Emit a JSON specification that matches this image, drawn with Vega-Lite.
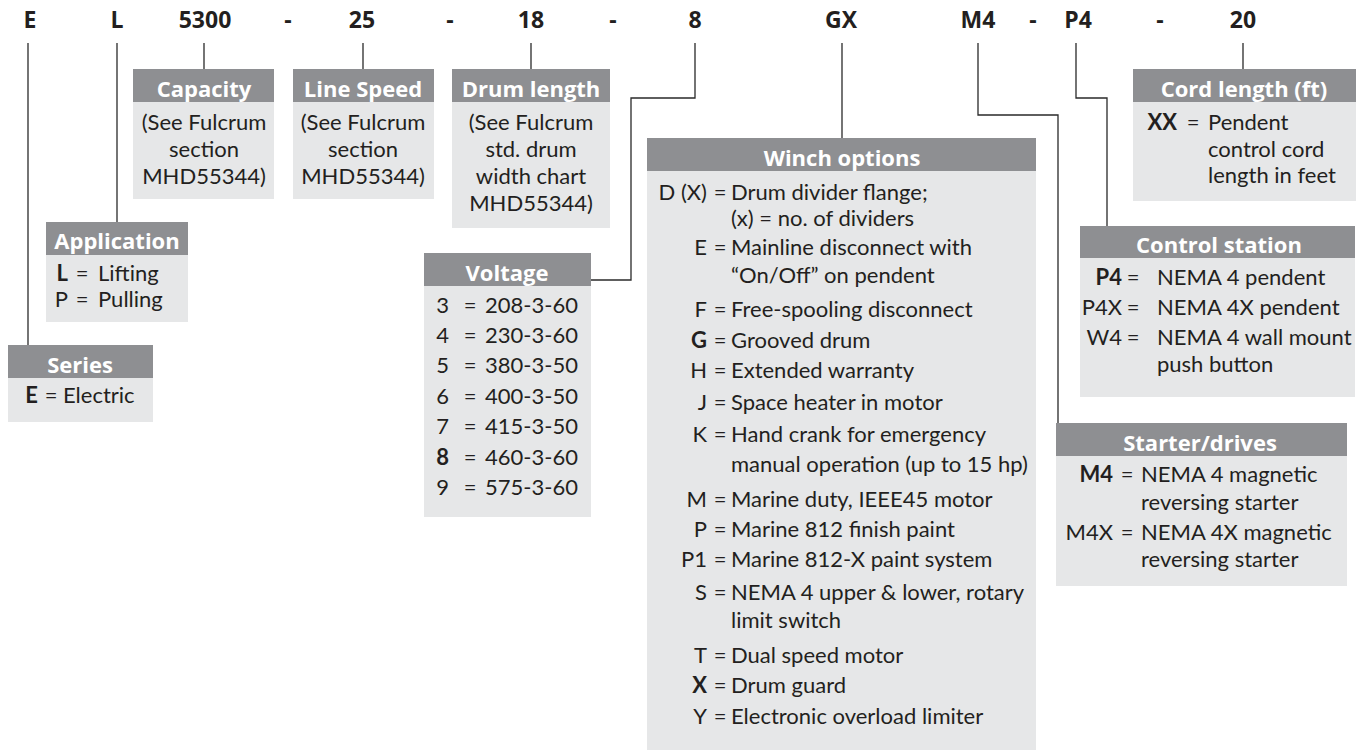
{
  "$schema": "https://vega.github.io/schema/vega-lite/v6.json",
  "width": 1356,
  "height": 752,
  "padding": 0,
  "autosize": {"type": "none"},
  "background": "white",
  "config": {"view": {"stroke": null}},
  "datasets": {
    "boxes": [
      {"box": "Capacity", "part": "header", "x": 133, "x2": 274, "y": 69, "y2": 102},
      {"box": "Capacity", "part": "body", "x": 133, "x2": 274, "y": 102, "y2": 199},
      {"box": "Line Speed", "part": "header", "x": 293, "x2": 434, "y": 69, "y2": 102},
      {"box": "Line Speed", "part": "body", "x": 293, "x2": 434, "y": 102, "y2": 199},
      {"box": "Drum length", "part": "header", "x": 452, "x2": 610, "y": 69, "y2": 102},
      {"box": "Drum length", "part": "body", "x": 452, "x2": 610, "y": 102, "y2": 228},
      {"box": "Cord length", "part": "header", "x": 1133, "x2": 1356, "y": 69, "y2": 102},
      {"box": "Cord length", "part": "body", "x": 1133, "x2": 1356, "y": 102, "y2": 201},
      {"box": "Application", "part": "header", "x": 46, "x2": 188, "y": 222, "y2": 255},
      {"box": "Application", "part": "body", "x": 46, "x2": 188, "y": 255, "y2": 322},
      {"box": "Series", "part": "header", "x": 8, "x2": 153, "y": 345, "y2": 378},
      {"box": "Series", "part": "body", "x": 8, "x2": 153, "y": 378, "y2": 422},
      {"box": "Voltage", "part": "header", "x": 424, "x2": 591, "y": 253, "y2": 286},
      {"box": "Voltage", "part": "body", "x": 424, "x2": 591, "y": 286, "y2": 517},
      {"box": "Winch options", "part": "header", "x": 647, "x2": 1036, "y": 138, "y2": 171},
      {"box": "Winch options", "part": "body", "x": 647, "x2": 1036, "y": 171, "y2": 750},
      {"box": "Control station", "part": "header", "x": 1080, "x2": 1355, "y": 226, "y2": 258},
      {"box": "Control station", "part": "body", "x": 1080, "x2": 1355, "y": 258, "y2": 397},
      {"box": "Starter/drives", "part": "header", "x": 1056, "x2": 1347, "y": 423, "y2": 456},
      {"box": "Starter/drives", "part": "body", "x": 1056, "x2": 1347, "y": 456, "y2": 586}
    ],
    "links": [
      {"conn": "E", "seq": 0, "x": 28, "y": 43}, {"conn": "E", "seq": 1, "x": 28, "y": 345},
      {"conn": "L", "seq": 0, "x": 117, "y": 43}, {"conn": "L", "seq": 1, "x": 117, "y": 222},
      {"conn": "5300", "seq": 0, "x": 204, "y": 43}, {"conn": "5300", "seq": 1, "x": 204, "y": 69},
      {"conn": "25", "seq": 0, "x": 363, "y": 43}, {"conn": "25", "seq": 1, "x": 363, "y": 69},
      {"conn": "18", "seq": 0, "x": 531, "y": 43}, {"conn": "18", "seq": 1, "x": 531, "y": 69},
      {"conn": "8", "seq": 0, "x": 695, "y": 43}, {"conn": "8", "seq": 1, "x": 695, "y": 98},
      {"conn": "8", "seq": 2, "x": 631, "y": 98}, {"conn": "8", "seq": 3, "x": 631, "y": 280},
      {"conn": "8", "seq": 4, "x": 591, "y": 280},
      {"conn": "GX", "seq": 0, "x": 842, "y": 43}, {"conn": "GX", "seq": 1, "x": 842, "y": 138},
      {"conn": "M4", "seq": 0, "x": 978, "y": 43}, {"conn": "M4", "seq": 1, "x": 978, "y": 115},
      {"conn": "M4", "seq": 2, "x": 1058, "y": 115}, {"conn": "M4", "seq": 3, "x": 1058, "y": 423},
      {"conn": "P4", "seq": 0, "x": 1076, "y": 43}, {"conn": "P4", "seq": 1, "x": 1076, "y": 98},
      {"conn": "P4", "seq": 2, "x": 1107, "y": 98}, {"conn": "P4", "seq": 3, "x": 1107, "y": 226},
      {"conn": "20", "seq": 0, "x": 1243, "y": 43}, {"conn": "20", "seq": 1, "x": 1243, "y": 69}
    ],
    "topcodes": [
      {"t": "E", "x": 30, "y": 28}, {"t": "L", "x": 117, "y": 28}, {"t": "5300", "x": 205, "y": 28},
      {"t": "-", "x": 288, "y": 28}, {"t": "25", "x": 362, "y": 28}, {"t": "-", "x": 450, "y": 28},
      {"t": "18", "x": 531, "y": 28}, {"t": "-", "x": 613, "y": 28}, {"t": "8", "x": 695, "y": 28},
      {"t": "GX", "x": 841, "y": 28}, {"t": "M4", "x": 978, "y": 28}, {"t": "-", "x": 1033, "y": 28},
      {"t": "P4", "x": 1078, "y": 28}, {"t": "-", "x": 1160, "y": 28}, {"t": "20", "x": 1243, "y": 28}
    ],
    "titles": [
      {"t": "Capacity", "x": 204, "y": 97}, {"t": "Line Speed", "x": 363, "y": 97},
      {"t": "Drum length", "x": 531, "y": 97}, {"t": "Cord length (ft)", "x": 1244, "y": 97},
      {"t": "Application", "x": 117, "y": 249}, {"t": "Series", "x": 80, "y": 373},
      {"t": "Voltage", "x": 507, "y": 281}, {"t": "Winch options", "x": 842, "y": 166},
      {"t": "Control station", "x": 1219, "y": 253}, {"t": "Starter/drives", "x": 1200, "y": 451}
    ],
    "centertext": [
      {"t": "(See Fulcrum", "x": 204, "y": 130}, {"t": "section", "x": 204, "y": 157}, {"t": "MHD55344)", "x": 204, "y": 184},
      {"t": "(See Fulcrum", "x": 363, "y": 130}, {"t": "section", "x": 363, "y": 157}, {"t": "MHD55344)", "x": 363, "y": 184},
      {"t": "(See Fulcrum", "x": 531, "y": 130}, {"t": "std. drum", "x": 531, "y": 157},
      {"t": "width chart", "x": 531, "y": 184}, {"t": "MHD55344)", "x": 531, "y": 211}
    ],
    "boldcodes": [
      {"t": "L", "x": 68, "y": 281}, {"t": "E", "x": 38, "y": 403}, {"t": "8", "x": 449, "y": 465},
      {"t": "G", "x": 707, "y": 348}, {"t": "X", "x": 707, "y": 693}, {"t": "P4", "x": 1122, "y": 285},
      {"t": "M4", "x": 1113, "y": 482}, {"t": "XX", "x": 1177, "y": 130}
    ],
    "codes": [
      {"t": "P", "x": 68, "y": 307},
      {"t": "3", "x": 449, "y": 313}, {"t": "4", "x": 449, "y": 343}, {"t": "5", "x": 449, "y": 373},
      {"t": "6", "x": 449, "y": 404}, {"t": "7", "x": 449, "y": 434}, {"t": "9", "x": 449, "y": 495},
      {"t": "D (X)", "x": 707, "y": 200}, {"t": "E", "x": 707, "y": 255}, {"t": "F", "x": 707, "y": 317},
      {"t": "H", "x": 707, "y": 378}, {"t": "J", "x": 707, "y": 410}, {"t": "K", "x": 707, "y": 442},
      {"t": "M", "x": 707, "y": 507}, {"t": "P", "x": 707, "y": 537}, {"t": "P1", "x": 707, "y": 567},
      {"t": "S", "x": 707, "y": 600}, {"t": "T", "x": 707, "y": 663}, {"t": "Y", "x": 707, "y": 724},
      {"t": "P4X", "x": 1122, "y": 315}, {"t": "W4", "x": 1122, "y": 345}, {"t": "M4X", "x": 1113, "y": 540}
    ],
    "equals": [
      {"t": "=", "x": 82, "y": 281}, {"t": "=", "x": 82, "y": 307}, {"t": "=", "x": 51, "y": 403},
      {"t": "=", "x": 470, "y": 313}, {"t": "=", "x": 470, "y": 343}, {"t": "=", "x": 470, "y": 373},
      {"t": "=", "x": 470, "y": 404}, {"t": "=", "x": 470, "y": 434}, {"t": "=", "x": 470, "y": 465},
      {"t": "=", "x": 470, "y": 495},
      {"t": "=", "x": 720, "y": 200}, {"t": "=", "x": 720, "y": 255}, {"t": "=", "x": 720, "y": 317},
      {"t": "=", "x": 720, "y": 348}, {"t": "=", "x": 720, "y": 378}, {"t": "=", "x": 720, "y": 410},
      {"t": "=", "x": 720, "y": 442}, {"t": "=", "x": 720, "y": 507}, {"t": "=", "x": 720, "y": 537},
      {"t": "=", "x": 720, "y": 567}, {"t": "=", "x": 720, "y": 600}, {"t": "=", "x": 720, "y": 663},
      {"t": "=", "x": 720, "y": 693}, {"t": "=", "x": 720, "y": 724},
      {"t": "=", "x": 1133, "y": 285}, {"t": "=", "x": 1133, "y": 315}, {"t": "=", "x": 1133, "y": 345},
      {"t": "=", "x": 1127, "y": 482}, {"t": "=", "x": 1127, "y": 540},
      {"t": "=", "x": 1193, "y": 130}
    ],
    "desc": [
      {"t": "Lifting", "x": 98, "y": 281}, {"t": "Pulling", "x": 98, "y": 307},
      {"t": "Electric", "x": 63, "y": 403},
      {"t": "208-3-60", "x": 485, "y": 313}, {"t": "230-3-60", "x": 485, "y": 343},
      {"t": "380-3-50", "x": 485, "y": 373}, {"t": "400-3-50", "x": 485, "y": 404},
      {"t": "415-3-50", "x": 485, "y": 434}, {"t": "460-3-60", "x": 485, "y": 465},
      {"t": "575-3-60", "x": 485, "y": 495},
      {"t": "Drum divider flange;", "x": 731, "y": 200},
      {"t": "(x) = no. of dividers", "x": 731, "y": 226},
      {"t": "Mainline disconnect with", "x": 731, "y": 255},
      {"t": "“On/Off” on pendent", "x": 731, "y": 283},
      {"t": "Free-spooling disconnect", "x": 731, "y": 317},
      {"t": "Grooved drum", "x": 731, "y": 348},
      {"t": "Extended warranty", "x": 731, "y": 378},
      {"t": "Space heater in motor", "x": 731, "y": 410},
      {"t": "Hand crank for emergency", "x": 731, "y": 442},
      {"t": "manual operation (up to 15 hp)", "x": 731, "y": 472},
      {"t": "Marine duty, IEEE45 motor", "x": 731, "y": 507},
      {"t": "Marine 812 finish paint", "x": 731, "y": 537},
      {"t": "Marine 812-X paint system", "x": 731, "y": 567},
      {"t": "NEMA 4 upper & lower, rotary", "x": 731, "y": 600},
      {"t": "limit switch", "x": 731, "y": 628},
      {"t": "Dual speed motor", "x": 731, "y": 663},
      {"t": "Drum guard", "x": 731, "y": 693},
      {"t": "Electronic overload limiter", "x": 731, "y": 724},
      {"t": "NEMA 4 pendent", "x": 1157, "y": 285}, {"t": "NEMA 4X pendent", "x": 1157, "y": 315},
      {"t": "NEMA 4 wall mount", "x": 1157, "y": 345}, {"t": "push button", "x": 1157, "y": 372},
      {"t": "NEMA 4 magnetic", "x": 1141, "y": 482}, {"t": "reversing starter", "x": 1141, "y": 510},
      {"t": "NEMA 4X magnetic", "x": 1141, "y": 540}, {"t": "reversing starter", "x": 1141, "y": 567},
      {"t": "Pendent", "x": 1208, "y": 130}, {"t": "control cord", "x": 1208, "y": 157},
      {"t": "length in feet", "x": 1208, "y": 183}
    ]
  },
  "encoding": {
    "x": {"field": "x", "type": "quantitative", "scale": {"domain": [0, 1356], "nice": false, "zero": false}, "axis": null},
    "y": {"field": "y", "type": "quantitative", "scale": {"domain": [0, 752], "nice": false, "zero": false, "reverse": true}, "axis": null}
  },
  "layer": [
    {
      "data": {"name": "boxes"},
      "mark": {"type": "rect"},
      "encoding": {
        "x2": {"field": "x2"},
        "y2": {"field": "y2"},
        "color": {"field": "part", "type": "nominal", "scale": {"domain": ["header", "body"], "range": ["#8e8f92", "#e6e7e8"]}, "legend": null}
      }
    },
    {
      "data": {"name": "links"},
      "mark": {"type": "line", "stroke": "#2a2a2a", "strokeWidth": 1.3, "interpolate": "linear"},
      "encoding": {
        "detail": {"field": "conn", "type": "nominal"},
        "order": {"field": "seq", "type": "quantitative"}
      }
    },
    {
      "data": {"name": "topcodes"},
      "mark": {"type": "text", "font": "Open Sans", "fontWeight": "bold", "fontSize": 23, "align": "center", "baseline": "alphabetic", "fill": "#231f20"},
      "encoding": {"text": {"field": "t"}}
    },
    {
      "data": {"name": "titles"},
      "mark": {"type": "text", "font": "Open Sans", "fontWeight": "bold", "fontSize": 22, "align": "center", "baseline": "alphabetic", "fill": "white"},
      "encoding": {"text": {"field": "t"}}
    },
    {
      "data": {"name": "centertext"},
      "mark": {"type": "text", "font": "Lato", "fontSize": 22, "align": "center", "baseline": "alphabetic", "fill": "#231f20"},
      "encoding": {"text": {"field": "t"}}
    },
    {
      "data": {"name": "boldcodes"},
      "mark": {"type": "text", "font": "Lato", "fontWeight": "bold", "fontSize": 22, "align": "right", "baseline": "alphabetic", "fill": "#231f20"},
      "encoding": {"text": {"field": "t"}}
    },
    {
      "data": {"name": "codes"},
      "mark": {"type": "text", "font": "Lato", "fontSize": 22, "align": "right", "baseline": "alphabetic", "fill": "#231f20"},
      "encoding": {"text": {"field": "t"}}
    },
    {
      "data": {"name": "equals"},
      "mark": {"type": "text", "font": "Lato", "fontSize": 22, "align": "center", "baseline": "alphabetic", "fill": "#231f20"},
      "encoding": {"text": {"field": "t"}}
    },
    {
      "data": {"name": "desc"},
      "mark": {"type": "text", "font": "Lato", "fontSize": 22, "align": "left", "baseline": "alphabetic", "fill": "#231f20"},
      "encoding": {"text": {"field": "t"}}
    }
  ]
}
